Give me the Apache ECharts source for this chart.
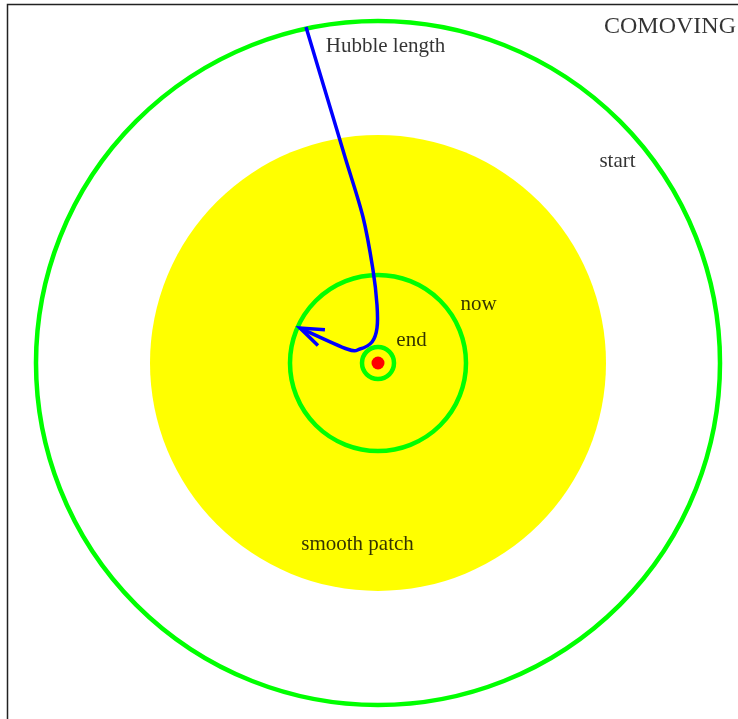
<!DOCTYPE html>
<html>
<head>
<meta charset="utf-8">
<title>Comoving</title>
<script src="https://cdn.jsdelivr.net/npm/echarts@6/dist/echarts.min.js"></script>
<style>
  html, body { margin: 0; padding: 0; background: #fff; }
  #chart { width: 738px; height: 719px; }
</style>
</head>
<body>
<div id="chart"></div>
<script>
var myChart = echarts.init(document.getElementById('chart'));

// comoving units, centre of the patch at (0, 0)
var ringNames = ['start', 'now', 'end'];
var ringRadius = [342, 88, 16];
var patchRadius = [228];
var coreRadius = [6.5];

// Hubble length track (from top down to the arrow tip)
var hubbleX = [-72, -52.5, -33, -15, -5, -1, -1, -6, -18, -31, -78];
var hubbleY = [336, 271, 206, 146, 93, 58, 35, 21, 14, 14, 35];

// text labels
var labelText = ['COMOVING', 'Hubble length', 'start', 'now', 'end', 'smooth patch'];
var labelX = [292, 7.5, 239.5, 100.5, 33.5, -20.5];
var labelY = [336, 317, 202, 59, 23, -181];

var hubbleData = hubbleX.map(function (x, i) { return [x, hubbleY[i]]; });

function diskItem(fill, stroke, width) {
    return function (params, api) {
        var c = api.coord([api.value(0), api.value(1)]);
        var r = api.size([api.value(2), 0])[0];
        return {
            type: 'circle',
            shape: { cx: c[0], cy: c[1], r: r },
            style: { fill: fill, stroke: stroke, lineWidth: width }
        };
    };
}

// smooth path through the track points (Catmull-Rom -> cubic bezier)
function trackItem(params, api) {
    if (params.dataIndex !== 0) return null;
    var p = hubbleData.map(function (d) { return api.coord(d); });
    var n = p.length;
    var path = 'M' + p[0][0] + ' ' + p[0][1];
    for (var i = 0; i < n - 1; i++) {
        var p0 = p[Math.max(i - 1, 0)], p1 = p[i], p2 = p[i + 1], p3 = p[Math.min(i + 2, n - 1)];
        var c1 = [p1[0] + (p2[0] - p0[0]) / 6, p1[1] + (p2[1] - p0[1]) / 6];
        var c2 = [p2[0] - (p3[0] - p1[0]) / 6, p2[1] - (p3[1] - p1[1]) / 6];
        path += ' C' + c1[0] + ' ' + c1[1] + ' ' + c2[0] + ' ' + c2[1] + ' ' + p2[0] + ' ' + p2[1];
    }
    return {
        type: 'path',
        shape: { pathData: path },
        style: { fill: 'none', stroke: '#0000ff', lineWidth: 3.5 }
    };
}

option = {
    animation: false,
    backgroundColor: '#fff',
    grid: { left: 0, right: 0, top: 0, bottom: 0 },
    xAxis: { type: 'value', min: -378, max: 360, show: false },
    yAxis: { type: 'value', min: -356, max: 363, show: false },
    graphic: [{
        type: 'rect',
        shape: { x: 7.5, y: 4.5, width: 800, height: 800 },
        style: { fill: 'none', stroke: '#222', lineWidth: 1.5 },
        z: 100
    }],
    series: [{
        type: 'custom',
        name: 'smooth patch',
        data: patchRadius.map(function (r) { return [0, 0, r]; }),
        renderItem: diskItem('#ffff00', null, 0),
        z: 1
    }, {
        type: 'custom',
        name: 'rings',
        data: ringRadius.map(function (r) { return [0, 0, r]; }),
        renderItem: diskItem('none', '#00ff00', 4.5),
        z: 2
    }, {
        type: 'custom',
        name: 'core',
        data: coreRadius.map(function (r) { return [0, 0, r]; }),
        renderItem: diskItem('#ff0000', null, 0),
        z: 3
    }, {
        type: 'custom',
        name: 'Hubble length',
        data: hubbleData,
        renderItem: trackItem,
        z: 4
    }, {
        // arrowhead at the end of the Hubble length track
        type: 'custom',
        name: 'arrow',
        data: [hubbleData[hubbleData.length - 2].concat(hubbleData[hubbleData.length - 1])],
        renderItem: function (params, api) {
            var tail = api.coord([api.value(0), api.value(1)]);
            var tip = api.coord([api.value(2), api.value(3)]);
            var ang = Math.atan2(tail[1] - tip[1], tail[0] - tip[0]);
            var len = 25, spread = 20 * Math.PI / 180;
            var a1 = [tip[0] + len * Math.cos(ang - spread), tip[1] + len * Math.sin(ang - spread)];
            var a2 = [tip[0] + len * Math.cos(ang + spread), tip[1] + len * Math.sin(ang + spread)];
            return {
                type: 'polyline',
                shape: { points: [a1, tip, a2] },
                style: { fill: 'none', stroke: '#0000ff', lineWidth: 3.5, lineJoin: 'miter' }
            };
        },
        z: 4
    }, {
        type: 'scatter',
        name: 'labels',
        symbolSize: 0,
        data: labelText.map(function (t, i) {
            return {
                value: [labelX[i], labelY[i], t],
                label: { fontSize: t === 'COMOVING' ? 24 : 21 }
            };
        }),
        label: {
            show: true,
            position: 'inside',
            formatter: function (p) { return p.value[2]; },
            fontFamily: 'Liberation Serif',
            fontSize: 21,
            color: '#000',
            textBorderWidth: 0
        },
        z: 5
    }]
};

myChart.setOption(option);

window.addEventListener('resize', function () {
    myChart.resize();
});
</script>
</body>
</html>
